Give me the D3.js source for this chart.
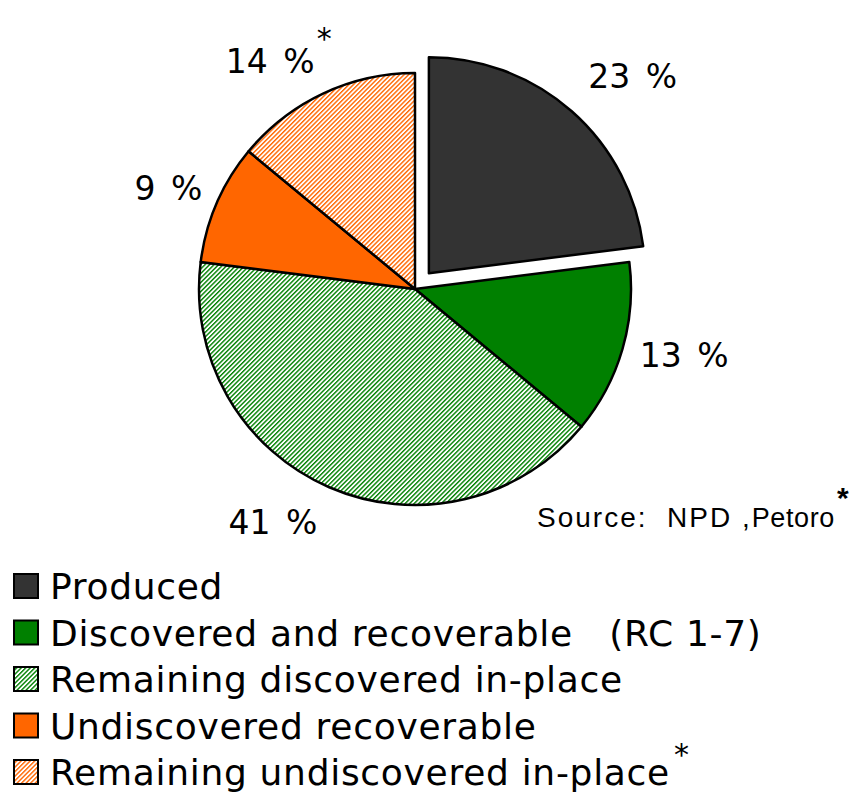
<!DOCTYPE html>
<html>
<head>
  <script src="https://d3js.org/d3.v7.min.js"></script>
  <meta charset="utf-8">
  <title>Pie Chart</title>
  <style>
    body {margin: 0; background: #fff;}
    svg text {font-family: "DejaVu Sans", Verdana, sans-serif; fill: #000;}
    .source {font-family: "Liberation Sans", Arial, sans-serif;}
  </style>
</head>
<body>
  <div id="chart"></div>
  <script>
    /* Chart data */
    const categories = ["Produced", "Discovered and recoverable   (RC 1-7)", "Remaining discovered in-place",
                        "Undiscovered recoverable", "Remaining undiscovered in-place"];
    const shares = [23, 13, 41, 9, 14];
    const labels = ["23 %", "13 %", "41 %", "9 %", "14 %"];
    const starred = [false, false, false, false, true];

    /* Layout */
    const width = 865, height = 792;
    const cx = 415, cy = 289, radius = 216;
    const explode = [21, 0, 0, 0, 0];
    const labelRadius = 272;
    const labelShift = [[24, 7], [8, -9], [-34, -16], [3, 8], [-29, 19]];
    const fills = ["#333333", "#008000", "url(#hatchGreen)", "#ff6600", "url(#hatchOrange)"];

    const svg = d3.select("#chart")
                  .append("svg")
                  .attr("width", width)
                  .attr("height", height);

    /* Hatch patterns */
    const defs = svg.append("defs");
    const hatch = (id, color) => {
      const p = defs.append("pattern")
                    .attr("id", id)
                    .attr("patternUnits", "userSpaceOnUse")
                    .attr("width", 3.2).attr("height", 3.2)
                    .attr("patternTransform", "rotate(45)");
      p.append("rect").attr("width", 3.2).attr("height", 3.2).attr("fill", "#fff");
      p.append("rect").attr("width", 1.4).attr("height", 3.2).attr("fill", color);
    };
    hatch("hatchGreen", "#008000");
    hatch("hatchOrange", "#ff6600");

    const pie = d3.pie().sort(null).value(d => d);
    const arcs = pie(shares);
    const arc = d3.arc().innerRadius(0).outerRadius(radius);
    const labelArc = d3.arc().innerRadius(labelRadius).outerRadius(labelRadius);
    const mid = d => (d.startAngle + d.endAngle) / 2;

    const g = svg.append("g").attr("transform", `translate(${cx},${cy})`);

    g.selectAll("path")
     .data(arcs)
     .enter()
     .append("path")
     .attr("d", arc)
     .attr("transform", (d, i) => `translate(${explode[i] * Math.sin(mid(d))},${-explode[i] * Math.cos(mid(d))})`)
     .attr("fill", (d, i) => fills[i])
     .attr("stroke", "#000")
     .attr("stroke-width", 2.5)
     .attr("stroke-linejoin", "round");

    /* Percentage labels */
    g.selectAll("text.pct")
     .data(arcs)
     .enter()
     .append("text")
     .attr("class", "pct")
     .attr("x", (d, i) => labelArc.centroid(d)[0] + labelShift[i][0] + explode[i] * Math.sin(mid(d)))
     .attr("y", (d, i) => labelArc.centroid(d)[1] + labelShift[i][1] - explode[i] * Math.cos(mid(d)))
     .attr("text-anchor", "middle")
     .attr("dominant-baseline", "central")
     .style("font-size", "33px")
     .style("word-spacing", "5px")
     .text((d, i) => labels[i])
     .each(function(d, i) {
        if (!starred[i]) return;
        const bb = this.getBBox();
        g.append("text")
         .attr("x", bb.x + bb.width + 2)
         .attr("y", bb.y - 4)
         .attr("dominant-baseline", "central")
         .style("font-size", "30px")
         .text("*");
     });

    /* Source note */
    const src = svg.append("text")
                   .attr("class", "source")
                   .attr("x", 537).attr("y", 527)
                   .style("font-size", "28px")
                   .style("letter-spacing", "2px")
                   .attr("xml:space", "preserve")
                   .style("white-space", "pre");
    src.append("tspan").text("Source:  NPD ,");
    src.append("tspan").style("font-size", "27px").style("letter-spacing", "0.6px").text("Petoro");
    src.append("tspan").attr("dy", -19).attr("dx", 2).style("font-size", "30px").style("font-weight", "bold").text("*");

    /* Legend */
    const legend = svg.append("g").attr("transform", "translate(13,573)");
    const rows = legend.selectAll("g")
                       .data(categories)
                       .enter()
                       .append("g")
                       .attr("transform", (d, i) => `translate(0,${i * 46.5})`);
    rows.append("rect")
        .attr("x", 1).attr("y", 1)
        .attr("width", 24).attr("height", 24)
        .attr("fill", (d, i) => fills[i])
        .attr("stroke", "#000")
        .attr("stroke-width", 2);
    rows.append("text")
        .attr("x", 37).attr("y", 26)
        .style("font-size", "36px")
        .style("letter-spacing", "0.7px")
        .style("white-space", "pre")
        .text(d => d)
        .each(function(d, i) {
          if (!starred[i]) return;
          const bb = this.getBBox();
          d3.select(this.parentNode).append("text")
            .attr("x", bb.x + bb.width + 4)
            .attr("y", 6)
            .style("font-size", "30px")
            .text("*");
        });
  </script>
</body>
</html>
